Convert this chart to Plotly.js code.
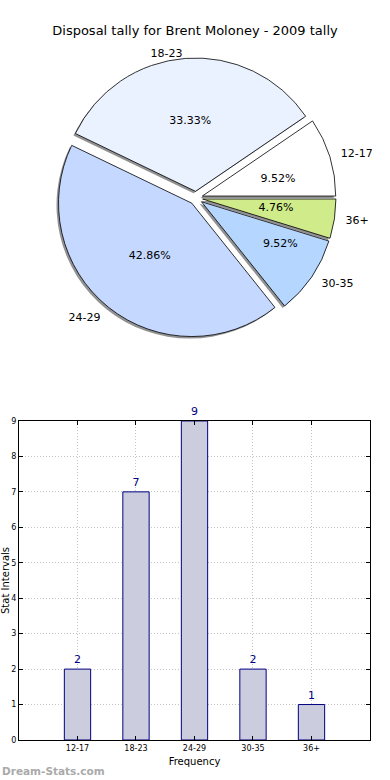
<!DOCTYPE html>
<html>
<head>
<meta charset="utf-8">
<script src="https://cdn.plot.ly/plotly-3.0.1.min.js"></script>
<style>html,body{margin:0;padding:0;background:#fff;}#chart{width:390px;height:780px;}</style>
</head>
<body>
<div id="chart"></div>
<script>
const categories = ['12-17', '18-23', '24-29', '30-35', '36+'];
const counts = [2, 7, 9, 2, 1];
const sliceColors = ['#ffffff', '#eaf1ff', '#c5d8ff', '#b5d6ff', '#cfeb8a'];
const yTicks = [0, 1, 2, 3, 4, 5, 6, 7, 8, 9];
const titleText = 'Disposal tally for Brent Moloney - 2009 tally';

const FONT = 'DejaVu Sans, sans-serif';
const W = 390, H = 780;
const CX = 196, CY = 198;
function dom(size, dx, dy) {
  dx = dx || 0; dy = dy || 0;
  return {
    x: [(CX + dx - size / 2) / W, (CX + dx + size / 2) / W],
    y: [1 - (CY + dy + size / 2) / H, 1 - (CY + dy - size / 2) / H]
  };
}
const pull = counts.map(() => 0.05);
const total = counts.reduce((a, b) => a + b, 0);
// first slice starts at 3 o'clock and runs counter-clockwise
const rot = 90 - 360 * counts[0] / total;
const PCT = '%{percent:.2%}';

const common = {type: 'pie', labels: categories, values: counts, sort: false,
  direction: 'counterclockwise', rotation: rot, pull: pull, showlegend: false, automargin: false};
const clear = {colors: categories.map(() => 'rgba(0,0,0,0)'), line: {width: 0}};

// invisible helper pie that only carries outside text for chosen slices
function textPie(size, which, tmpl) {
  return Object.assign({}, common, {
    domain: dom(size), marker: clear,
    texttemplate: categories.map((c, i) => which.includes(i) ? tmpl : ''),
    textposition: 'outside',
    outsidetextfont: {family: FONT, size: 11, color: '#000'},
    hoverinfo: 'skip'
  });
}

const shadow = Object.assign({}, common, {
  domain: dom(280, -2, 2),
  marker: {colors: categories.map(() => 'rgba(110,110,110,0.75)'), line: {width: 0}},
  textinfo: 'none', hoverinfo: 'skip'
});

const pie = Object.assign({}, common, {
  domain: dom(280),
  marker: {colors: sliceColors, line: {color: '#000000', width: 0.8}},
  texttemplate: categories.map((c, i) => (i === 1 || i === 2) ? PCT : ''),
  textposition: 'inside', insidetextorientation: 'horizontal',
  textfont: {family: FONT, size: 11, color: '#000'},
  hoverinfo: 'label+percent'
});

const pctA = textPie(128, [0], PCT);
const pctB = textPie(120, [4], PCT);
const pctC = textPie(154, [3], PCT);
const labA = textPie(276, [1], '%{label}');
const labB = textPie(296, [0, 2, 3, 4], '%{label}');

const bars = {
  type: 'bar', x: categories, y: counts, width: 0.45,
  marker: {color: '#ccccdf', line: {color: '#000080', width: 1}},
  text: counts.map(String), textposition: 'outside', cliponaxis: false,
  textfont: {family: FONT, size: 11, color: '#000080'},
  xaxis: 'x', yaxis: 'y', showlegend: false
};

const layout = {
  width: W, height: H,
  margin: {l: 0, r: 0, t: 0, b: 0},
  paper_bgcolor: '#ffffff', plot_bgcolor: '#ffffff',
  font: {family: FONT, color: '#000'},
  title: {text: titleText, font: {family: FONT, size: 13, color: '#000'}, x: 0.5, xanchor: 'center', y: 0.961, yanchor: 'middle'},
  xaxis: {
    domain: [0.0487, 0.9487], range: [-1, 5], type: 'category',
    showgrid: true, gridcolor: '#c4c4c4', griddash: '1px,2px', gridwidth: 1,
    ticks: 'inside', ticklen: 4, tickcolor: '#000', mirror: 'ticks',
    showline: true, linecolor: '#000', linewidth: 1,
    tickfont: {family: FONT, size: 8, color: '#000'},
    title: {text: 'Frequency', font: {family: FONT, size: 10, color: '#000'}, standoff: 6},
    zeroline: false, fixedrange: true
  },
  yaxis: {
    domain: [0.0513, 0.4603], range: [0, 9], tickvals: yTicks,
    showgrid: true, gridcolor: '#c4c4c4', griddash: '1px,2px', gridwidth: 1,
    ticks: 'inside', ticklen: 4, tickcolor: '#000', mirror: 'ticks',
    showline: true, linecolor: '#000', linewidth: 1,
    tickfont: {family: FONT, size: 8, color: '#000'},
    title: {text: 'Stat Intervals', font: {family: FONT, size: 10, color: '#000'}, standoff: 0},
    zeroline: false, fixedrange: true
  },
  annotations: [{
    text: '<b>Dream-Stats.com</b>', xref: 'paper', yref: 'paper', x: 0, y: 0.012,
    xanchor: 'left', yanchor: 'middle', showarrow: false,
    font: {family: FONT, size: 10.5, color: '#aaaaaa'}
  }]
};

Plotly.newPlot('chart', [shadow, pie, pctA, pctB, pctC, labA, labB, bars], layout, {displayModeBar: false, staticPlot: true});
</script>
</body>
</html>
